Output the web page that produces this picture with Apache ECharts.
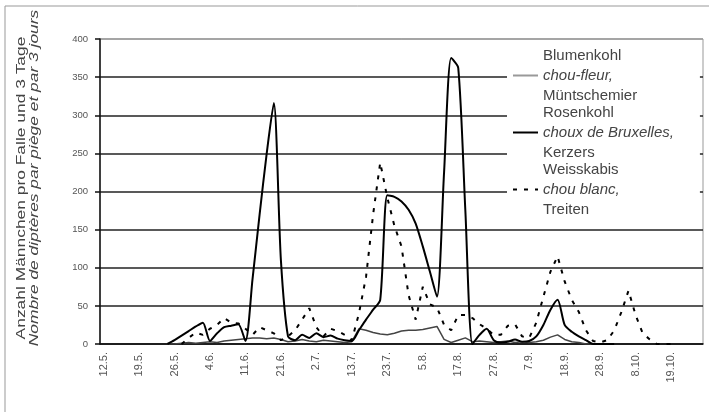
<!DOCTYPE html>
<html>
<head>
<meta charset="utf-8">
<script src="https://cdn.jsdelivr.net/npm/echarts@6/dist/echarts.min.js"></script>
<style>
  html, body { margin: 0; padding: 0; background: #fff; }
  #chart { width: 709px; height: 412px; }
</style>
</head>
<body>
<div id="chart"></div>
<script>
// labels under every 5th sampling date
var tickLabels = ['12.5.', '19.5.', '26.5.', '4.6.', '11.6.', '21.6.', '2.7.', '13.7.', '23.7.',
    '5.8.', '17.8.', '27.8.', '7.9.', '18.9.', '28.9.', '8.10.', '19.10.'];
var nDates = 85;

// Männchen pro Falle und 3 Tage
var blumenkohl = [
    null, null, null, null, null, null, null, null, null, 0,
    0, 1, 2, 1, 2, 3, 2, 4, 5, 6,
    7, 8, 8, 7, 8, 6, 3, 4, 6, 4,
    3, 5, 4, 3, 2, 3, 20, 18, 15, 13,
    12, 14, 17, 18, 18, 19, 21, 23, 6, 2,
    5, 8, 3, 4, 3, 2, 3, 4, 2, 3,
    2, 3, 5, 9, 12, 6, 3, 2, 0, 0,
    0, 0, 0, null, null, null, null, null, null, null,
    null, null, null, null, null
];
var rosenkohl = [
    null, null, null, null, null, null, null, null, null, 0,
    5, 11, 17, 23, 28, 4, 14, 22, 24, 26,
    4, 85, 170, 250, 316, 110, 10, 5, 12, 8,
    14, 9, 11, 7, 5, 4, 18, 32, 45, 58,
    195, 193, 187, 176, 158, 128, 95, 62, 225, 375,
    362, 175, 0, 12, 20, 5, 2, 3, 6, 3,
    4, 10, 25, 45, 58, 25, 16, 10, 5, 0,
    0, 0, 0, null, null, null, null, null, null, null,
    null, null, null, null, null
];
var weisskabis = [
    null, null, null, null, null, null, null, null, null, null,
    null, 0, 8, 15, 12, 20, 25, 34, 28, 27,
    20, 12, 22, 18, 14, 5, 10, 18, 32, 47,
    22, 10, 20, 17, 12, 5, 40, 88, 170, 238,
    192, 155, 128, 64, 32, 75, 52, 48, 25, 18,
    38, 38, 34, 26, 20, 12, 12, 24, 26, 10,
    8, 28, 62, 95, 115, 82, 58, 42, 18, 4,
    2, 5, 18, 42, 70, 38, 14, 6, 0, 0,
    0, null, null, null, null
];

var legendText = {
    'Blumenkohl': ['Blumenkohl', 'chou-fleur,', 'Müntschemier'],
    'Rosenkohl': ['Rosenkohl', 'choux de Bruxelles,', 'Kerzers'],
    'Weisskabis': ['Weisskabis', 'chou blanc,', 'Treiten']
};

var dates = [];
for (var i = 0; i < nDates; i++) {
    dates.push(i % 5 === 0 && tickLabels[i / 5] ? tickLabels[i / 5] : '');
}

var gridColor = '#222';

var dom = document.getElementById('chart');
var myChart = echarts.init(dom, null, { renderer: 'canvas' });
var option = {
    animation: false,
    backgroundColor: '#fff',
    textStyle: { fontFamily: '"Liberation Sans", Arial, sans-serif' },
    grid: {
        left: 100,
        right: 6,
        top: 39,
        bottom: 68,
        show: true,
        borderColor: '#999',
        borderWidth: 1
    },
    legend: {
        orient: 'vertical',
        left: 507,
        top: 42,
        padding: [6, 26, 6, 5],
        itemGap: 2,
        itemWidth: 25,
        itemHeight: 2,
        backgroundColor: '#fff',
        itemStyle: { opacity: 0 },
        data: [
            { name: 'Blumenkohl', lineStyle: { color: '#999' } },
            { name: 'Rosenkohl' },
            { name: 'Weisskabis' }
        ],
        formatter: function (name) {
            var t = legendText[name];
            return '{a|' + t[0] + '}\n{b|' + t[1] + '}\n{a|' + t[2] + '}';
        },
        textStyle: {
            rich: {
                a: { fontSize: 15, lineHeight: 20, color: '#444' },
                b: { fontSize: 15, lineHeight: 20, color: '#444', fontStyle: 'italic' }
            }
        }
    },
    xAxis: {
        type: 'category',
        data: dates,
        boundaryGap: true,
        axisLine: { lineStyle: { color: '#111', width: 1.5 } },
        axisTick: { interval: 0, length: 4, lineStyle: { color: '#111', width: 1.5 } },
        axisLabel: {
            interval: 0,
            rotate: 90,
            margin: 8,
            fontSize: 11,
            color: '#555'
        },
        splitLine: { show: false }
    },
    yAxis: {
        type: 'value',
        min: 0,
        max: 400,
        interval: 50,
        axisLine: { show: true, lineStyle: { color: '#111', width: 1.5 } },
        axisTick: { show: true, length: 5, lineStyle: { color: '#111', width: 1.5 } },
        axisLabel: { margin: 12, fontSize: 9.5, color: '#555' },
        splitLine: {
            lineStyle: {
                color: [gridColor, gridColor, gridColor, gridColor, gridColor,
                    gridColor, gridColor, gridColor, '#999'],
                width: 1.5
            }
        }
    },
    graphic: [
        {
            type: 'rect',
            silent: true,
            shape: { x: 5, y: 6, width: 720, height: 420 },
            style: { fill: 'none', stroke: '#999', lineWidth: 1 }
        },
        {
            type: 'text',
            x: 22,
            y: 188,
            rotation: Math.PI / 2,
            scaleX: 1.45,
            style: {
                text: 'Anzahl Männchen pro Falle und 3 Tage',
                fontSize: 12,
                fontFamily: '"Liberation Sans", Arial, sans-serif',
                fill: '#444',
                align: 'center',
                verticalAlign: 'middle'
            }
        },
        {
            type: 'text',
            x: 35,
            y: 178,
            rotation: Math.PI / 2,
            scaleX: 1.45,
            style: {
                text: 'Nombre de diptères par piège et par 3 jours',
                fontSize: 12,
                fontStyle: 'italic',
                fontFamily: '"Liberation Sans", Arial, sans-serif',
                fill: '#444',
                align: 'center',
                verticalAlign: 'middle'
            }
        }
    ],
    series: [
        {
            name: 'Blumenkohl',
            type: 'line',
            data: blumenkohl,
            symbol: 'none',
            color: '#444',
            lineStyle: { color: '#444', width: 1.5 }
        },
        {
            name: 'Rosenkohl',
            type: 'line',
            data: rosenkohl,
            symbol: 'none',
            smooth: 0.25,
            color: '#000',
            lineStyle: { color: '#000', width: 2 }
        },
        {
            name: 'Weisskabis',
            type: 'line',
            data: weisskabis,
            symbol: 'none',
            color: '#000',
            lineStyle: { color: '#000', width: 2, type: [4, 7] }
        }
    ]
};
if (option && typeof option === 'object') {
    myChart.setOption(option, true);
}
</script>
</body>
</html>
